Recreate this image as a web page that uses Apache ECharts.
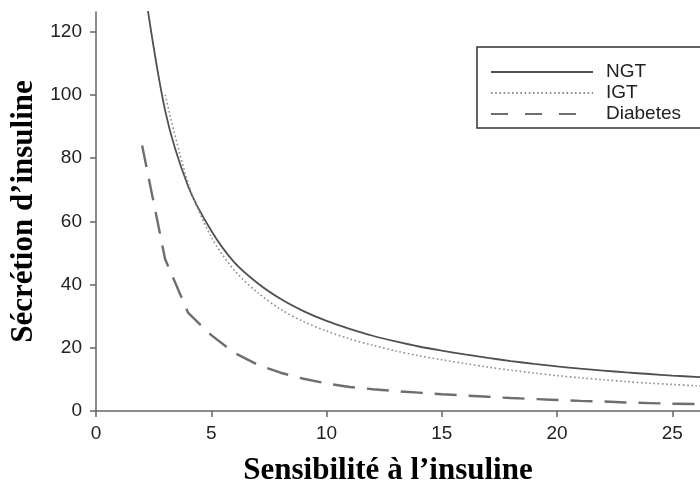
<!DOCTYPE html>
<html>
<head>
<meta charset="utf-8">
<script src="https://cdn.jsdelivr.net/npm/echarts@6/dist/echarts.min.js"></script>
<style>
  html, body { margin: 0; padding: 0; background: #fff; }
  #chart { width: 700px; height: 491px; }
</style>
</head>
<body>
<div id="chart"></div>
<script>
// sensibilité (x) and sécrétion (y)
const xNGT = [2, 3, 4, 5, 6, 7, 8, 9, 10, 11, 12, 13, 14, 15, 16, 17, 18, 19, 20, 21, 22, 23, 24, 25, 26, 27]
const yNGT = [139, 95, 71, 57, 47, 40.5, 35.5, 31.6, 28.5, 26, 23.8, 22, 20.4, 19.1, 17.9, 16.8, 15.8, 14.9, 14.1, 13.4, 12.8, 12.2, 11.7, 11.2, 10.8, 10.4]

const xIGT = [3, 4, 5, 6, 7, 8, 9, 10, 11, 12, 13, 14, 15, 16, 17, 18, 19, 20, 21, 22, 23, 24, 25, 26, 27]
const yIGT = [100, 72, 55, 44.5, 37.5, 32.2, 28.3, 25.3, 22.8, 20.8, 19.0, 17.5, 16.2, 15.0, 13.9, 12.9, 12.0, 11.2, 10.5, 9.9, 9.3, 8.8, 8.4, 8.0, 7.7]

const xDiab = [2, 3, 4, 5, 6, 7, 8, 9, 10, 11, 12, 13, 14, 15, 16, 17, 18, 19, 20, 21, 22, 23, 24, 25, 26, 27]
const yDiab = [84, 48, 31, 24, 18.4, 14.7, 12.1, 10.2, 8.7, 7.6, 6.9, 6.3, 5.8, 5.3, 4.9, 4.5, 4.1, 3.8, 3.5, 3.2, 3.0, 2.7, 2.5, 2.3, 2.2, 2.1]

const xTicks = [0, 5, 10, 15, 20, 25]
const yTicks = [0, 20, 40, 60, 80, 100, 120]

const pairs = (xs, ys) => xs.map((x, i) => [x, ys[i]])

const chart = echarts.init(document.getElementById('chart'))

const axisCommon = {
    axisLine: { show: true, onZero: false, lineStyle: { color: '#666', width: 1.5 } },
    axisTick: { show: true, length: 6, lineStyle: { color: '#666', width: 1.5 } },
    splitLine: { show: false }
}
const titleFont = {
    fontFamily: 'Liberation Serif',
    fontWeight: 'bold',
    fontSize: 31,
    color: '#000'
}
const labelFont = {
    fontFamily: 'Liberation Sans',
    fontSize: 19,
    color: '#222'
}

chart.setOption({
    animation: false,
    backgroundColor: '#fff',
    grid: { left: 96, top: 12, right: 0, bottom: 79 },
    // legend frame runs off the right edge, like in the figure
    graphic: [{
        type: 'rect',
        z: 10,
        shape: { x: 477, y: 47, width: 260, height: 81 },
        style: { fill: '#fff', stroke: '#333', lineWidth: 1.5 }
    }],
    legend: {
        orient: 'vertical',
        left: 477,
        top: 47,
        z: 20,
        padding: [15, 20, 4, 13],
        itemWidth: 102,
        itemHeight: 14,
        itemGap: 1,
        itemStyle: { opacity: 0 },
        textStyle: {
            fontFamily: 'Liberation Sans',
            fontSize: 19,
            lineHeight: 20,
            color: '#222',
            padding: [0, 0, 0, 8]
        },
        data: [
            { name: 'NGT' },
            { name: 'IGT' },
            { name: 'Diabetes', lineStyle: { type: [17, 17] } }
        ]
    },
    xAxis: {
        ...axisCommon,
        type: 'value',
        min: 0,
        max: 26.2,
        interval: 5,
        name: 'Sensibilité à l\u2019insuline',
        nameLocation: 'middle',
        nameGap: 44,
        nameTextStyle: { ...titleFont, padding: [0, 20, 0, 0] },
        axisTick: { ...axisCommon.axisTick, customValues: xTicks },
        axisLabel: { ...labelFont, customValues: xTicks, margin: 13 }
    },
    yAxis: {
        ...axisCommon,
        type: 'value',
        min: 0,
        max: 126.2,
        interval: 20,
        name: 'Sécrétion d\u2019insuline',
        nameLocation: 'middle',
        nameGap: 57,
        nameTextStyle: titleFont,
        axisTick: { ...axisCommon.axisTick, customValues: yTicks },
        axisLabel: { ...labelFont, customValues: yTicks, margin: 14 }
    },
    series: [
        {
            name: 'NGT',
            type: 'line',
            symbol: 'none',
            smooth: 0.3,
            data: pairs(xNGT, yNGT),
            lineStyle: { color: '#505050', width: 1.8, type: 'solid' },
            itemStyle: { color: '#505050' }
        },
        {
            name: 'IGT',
            type: 'line',
            symbol: 'none',
            smooth: 0.3,
            data: pairs(xIGT, yIGT),
            lineStyle: { color: '#8c8c8c', width: 1.6, type: [1.6, 2.6] },
            itemStyle: { color: '#8c8c8c' }
        },
        {
            name: 'Diabetes',
            type: 'line',
            symbol: 'none',
            data: pairs(xDiab, yDiab),
            lineStyle: { color: '#6e6e6e', width: 2.4, type: [22, 12] },
            itemStyle: { color: '#6e6e6e' }
        }
    ]
})
</script>
</body>
</html>
